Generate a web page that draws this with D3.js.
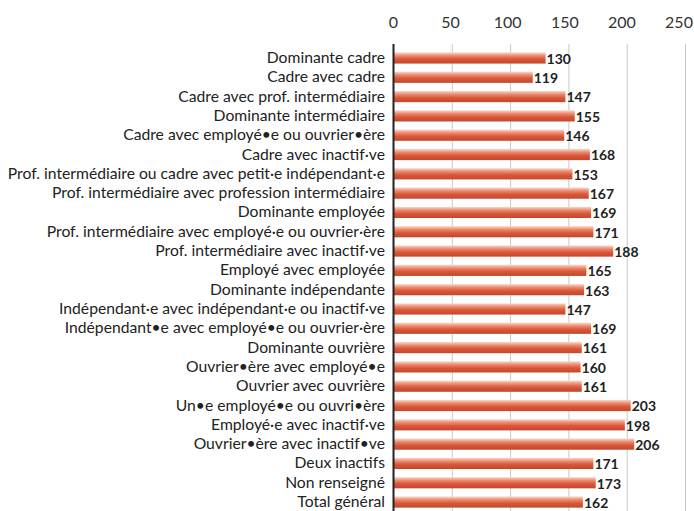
<!DOCTYPE html>
<html>
<head>
<meta charset="utf-8">
<script src="https://cdn.jsdelivr.net/npm/d3@7"></script>
<style>
  body { margin: 0; background: #fff; }
  .chart text { font-family: Lato, "Open Sans", sans-serif; }
</style>
</head>
<body>
<div class="chart"></div>
<script>
const categories = [
  'Dominante cadre',
  'Cadre avec cadre',
  'Cadre avec prof. intermédiaire',
  'Dominante intermédiaire',
  'Cadre avec employé•e ou ouvrier•ère',
  'Cadre avec inactif·ve',
  'Prof. intermédiaire ou cadre avec petit·e indépendant·e',
  'Prof. intermédiaire avec profession intermédiaire',
  'Dominante employée',
  'Prof. intermédiaire avec employé·e ou ouvrier·ère',
  'Prof. intermédiaire avec inactif·ve',
  'Employé avec employée',
  'Dominante indépendante',
  'Indépendant·e avec indépendant·e ou inactif·ve',
  'Indépendant•e avec employé•e ou ouvrier·ère',
  'Dominante ouvrière',
  'Ouvrier•ère avec employé•e',
  'Ouvrier avec ouvrière',
  'Un•e employé•e ou ouvri•ère',
  'Employé·e avec inactif·ve',
  'Ouvrier•ère avec inactif•ve',
  'Deux inactifs',
  'Non renseigné',
  'Total général'
];
const values = [130, 119, 147, 155, 146, 168, 153, 167, 169, 171, 188, 165, 163, 147, 169, 161, 160, 161, 203, 198, 206, 171, 173, 162];
const tickValues = [0, 50, 100, 150, 200, 250];

const width = 694, height = 511;
const margin = {top: 48, left: 394, right: 8, bottom: 0};

const data = categories.map((c, i) => ({cat: c, value: values[i]}));

const svg = d3.select('.chart')
  .append('svg')
  .attr('width', width)
  .attr('height', height);

const defs = svg.append('defs');
const grad = defs.append('linearGradient')
  .attr('id', 'barGrad')
  .attr('x1', 0).attr('y1', 0).attr('x2', 0).attr('y2', 1);
grad.append('stop').attr('offset', '0%').attr('stop-color', '#f7d9cf');
grad.append('stop').attr('offset', '30%').attr('stop-color', '#ec8a6c');
grad.append('stop').attr('offset', '60%').attr('stop-color', '#d9573a');
grad.append('stop').attr('offset', '100%').attr('stop-color', '#c4472b');

const xScale = d3.scaleLinear()
  .domain([0, 250])
  .range([margin.left, 685.5]);

// the tick labels drift a little left of the gridlines in the original
const labelScale = d3.scaleLinear()
  .domain([0, 250])
  .range([393, 678.5]);

const yScale = d3.scaleBand()
  .domain(categories)
  .range([48.5, 511.5])
  .paddingInner(0.42)
  .paddingOuter(0.2);

// gridlines
svg.append('g')
  .selectAll('line')
  .data(tickValues.slice(1))
  .join('line')
  .attr('x1', d => xScale(d))
  .attr('x2', d => xScale(d))
  .attr('y1', 44)
  .attr('y2', height)
  .attr('stroke', '#c8c8c8')
  .attr('stroke-width', 1);

// top axis labels
const xAxis = d3.axisTop(labelScale)
  .tickValues(tickValues)
  .tickSize(0)
  .tickPadding(0);

const axisG = svg.append('g')
  .attr('transform', 'translate(0, 28)')
  .call(xAxis);
axisG.select('.domain').remove();
axisG.selectAll('text')
  .attr('font-size', 16)
  .attr('fill', '#333')
  .attr('font-family', 'Lato, sans-serif');

// bars
svg.append('g')
  .selectAll('rect')
  .data(data)
  .join('rect')
  .attr('x', xScale(0))
  .attr('y', d => yScale(d.cat))
  .attr('width', d => xScale(d.value) - xScale(0))
  .attr('height', yScale.bandwidth())
  .attr('fill', 'url(#barGrad)');

// value labels
svg.append('g')
  .selectAll('text')
  .data(data)
  .join('text')
  .attr('x', d => xScale(d.value) + 1)
  .attr('y', d => yScale(d.cat) + yScale.bandwidth() / 2 + 1)
  .attr('dy', '0.35em')
  .attr('font-size', 14)
  .attr('font-weight', 'bold')
  .attr('fill', '#222')
  .text(d => d.value);

// category labels
svg.append('g')
  .selectAll('text')
  .data(data)
  .join('text')
  .attr('x', 385)
  .attr('y', d => yScale(d.cat) + yScale.bandwidth() / 2)
  .attr('dy', '0.32em')
  .attr('text-anchor', 'end')
  .attr('font-size', 15.7)
  .attr('fill', '#222')
  .text(d => d.cat);

// vertical axis line
svg.append('line')
  .attr('x1', xScale(0) - 0.5)
  .attr('x2', xScale(0) - 0.5)
  .attr('y1', 44)
  .attr('y2', height)
  .attr('stroke', '#222')
  .attr('stroke-width', 2);
</script>
</body>
</html>
